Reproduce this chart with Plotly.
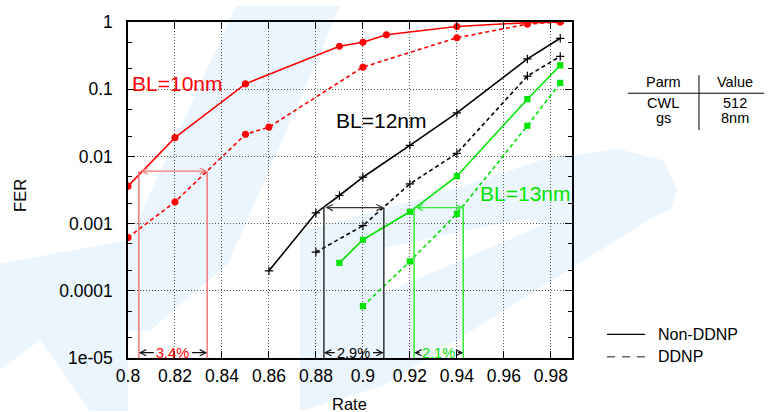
import math
import plotly.graph_objects as go

# ---- FER versus code rate, three block lengths, with and without DDNP ----
rate_bl10_non = [0.80, 0.82, 0.85, 0.89, 0.90, 0.91, 0.94, 0.97, 0.984]
fer_bl10_non = [0.0036, 0.019, 0.12, 0.436, 0.50, 0.645, 0.855, 0.98, 1.0]
rate_bl10_ddnp = [0.80, 0.82, 0.85, 0.86, 0.90, 0.94, 0.97, 0.984]
fer_bl10_ddnp = [0.00062, 0.0021, 0.0213, 0.0273, 0.213, 0.583, 0.93, 1.0]

rate_bl12_non = [0.86, 0.88, 0.89, 0.90, 0.92, 0.94, 0.97, 0.984]
fer_bl12_non = [0.000198, 0.00144, 0.00262, 0.0049, 0.0146, 0.0443, 0.282, 0.572]
rate_bl12_ddnp = [0.88, 0.90, 0.92, 0.94, 0.97, 0.984]
fer_bl12_ddnp = [0.000376, 0.00093, 0.0039, 0.0111, 0.157, 0.308]

rate_bl13_non = [0.89, 0.90, 0.92, 0.94, 0.97, 0.984]
fer_bl13_non = [0.00026, 0.000575, 0.0015, 0.00507, 0.071, 0.227]
rate_bl13_ddnp = [0.90, 0.92, 0.94, 0.97, 0.984]
fer_bl13_ddnp = [5.9e-5, 0.000274, 0.0014, 0.0286, 0.124]

# rate gain brackets: (rate non-DDNP, rate DDNP, FER level, label)
gain_bl10 = (0.8046, 0.8337, 0.00605, "3.4%")
gain_bl12 = (0.8834, 0.9089, 0.00173, "2.9%")
gain_bl13 = (0.9218, 0.9427, 0.00173, "2.1%")

x_ticks = [0.80, 0.82, 0.84, 0.86, 0.88, 0.90, 0.92, 0.94, 0.96, 0.98]
y_ticks = [1e-5, 1e-4, 1e-3, 1e-2, 1e-1, 1]
y_ticktext = ["1e-05", "0.0001", "0.001", "0.01", "0.1", "1"]
y_minor = [m * 10.0 ** e for e in range(-5, 0) for m in (2, 5)]

table_head = ["Parm", "Value"]
table_rows = [["CWL", "512"], ["gs", "8nm"]]
legend_names = ["Non-DDNP", "DDNP"]

RED = "#ff0000"
BLACK = "#000000"
GREEN = "#00e400"
FONT = "Liberation Sans, Arial, sans-serif"

W, H = 768, 412
L, R, T, B = 128, 196, 16, 54


def pxx(x):
    return (x - L) / (W - L - R)


def pxy(y):
    return (H - B - y) / (H - T - B)


fig = go.Figure()


def curve(xs, ys, color, dash, symbol, size):
    fig.add_trace(go.Scatter(
        x=xs, y=ys, mode="lines+markers",
        line=dict(color=color, width=1.6, dash=dash),
        marker=dict(color=color, symbol=symbol, size=size,
                    line=dict(color=color, width=1.2)),
        showlegend=False, hoverinfo="x+y"))


curve(rate_bl10_non, fer_bl10_non, RED, "solid", "circle", 6)
curve(rate_bl10_ddnp, fer_bl10_ddnp, RED, "4px,3px", "circle", 6)
curve(rate_bl12_non, fer_bl12_non, BLACK, "solid", "cross-thin", 6)
curve(rate_bl12_ddnp, fer_bl12_ddnp, BLACK, "4px,3px", "cross-thin", 6)
curve(rate_bl13_non, fer_bl13_non, GREEN, "solid", "square", 5)
curve(rate_bl13_ddnp, fer_bl13_ddnp, GREEN, "4px,3px", "square", 5)

shapes = []
annotations = []


def note(text, x, y, size, color=BLACK, xanchor="center", **kw):
    annotations.append(dict(x=pxx(x), y=pxy(y), xref="paper", yref="paper", text=text,
                            xanchor=xanchor, yanchor="middle", showarrow=False,
                            font=dict(family=FONT, size=size, color=color), **kw))


# faint watermark in the background
WM = "#ebf5fd"


def poly(points, color=WM):
    d = "M" + " L".join(f"{pxx(a):.4f},{pxy(b):.4f}" for a, b in points) + " Z"
    shapes.append(dict(type="path", path=d, xref="paper", yref="paper",
                       fillcolor=color, line=dict(width=0), layer="below"))


poly([(236, 0), (340, 0), (300, 95), (228, 262), (150, 330), (128, 330), (128, 240)])
poly([(0, 262), (128, 238), (128, 412), (90, 412), (40, 340), (0, 370)])
poly([(300, 230), (384, 206), (451, 187), (540, 157), (617, 145), (664, 157),
      (677, 187), (671, 206), (651, 216), (384, 386), (300, 412), (300, 300)])
poly([(384, 246), (524, 216), (545, 222), (384, 292)], "#ffffff")

# rate gain brackets
low = 1.2e-5
for (x0, x1, lvl, txt), col, vcol in [
        (gain_bl10, RED, "#f27878"),
        (gain_bl12, BLACK, "#333333"),
        (gain_bl13, GREEN, "#33ee33")]:
    for xv in (x0, x1):
        shapes.append(dict(type="line", xref="x", yref="y", x0=xv, x1=xv,
                           y0=1e-5, y1=lvl, line=dict(color=vcol, width=1.5),
                           layer="above"))
    annotations.append(dict(x=x1, y=math.log10(lvl), ax=x0, ay=math.log10(lvl),
                            xref="x", yref="y", axref="x", ayref="y", text="",
                            showarrow=True, arrowside="end+start", arrowhead=5,
                            startarrowhead=5, arrowsize=1, startarrowsize=1,
                            arrowwidth=1.2, arrowcolor=vcol,
                            standoff=0, startstandoff=0))
    xc = (x0 + x1) / 2
    gap = 0.0075
    for xe, xs in ((x0, xc - gap), (x1, xc + gap)):
        annotations.append(dict(x=xe, y=math.log10(low), ax=xs, ay=math.log10(low),
                                xref="x", yref="y", axref="x", ayref="y", text="",
                                showarrow=True, arrowhead=5, arrowsize=1,
                                arrowwidth=1.2, arrowcolor="#111111",
                                standoff=0))
    annotations.append(dict(x=xc, y=math.log10(low), xref="x", yref="y", text=txt,
                            xanchor="center", yanchor="middle",
                            showarrow=False, font=dict(family=FONT, size=14.5, color=col)))

# curve family labels
for txt, xv, yv, col in [("BL=10nm", 0.8207, 0.12, RED),
                          ("BL=12nm", 0.9077, 0.0337, BLACK),
                          ("BL=13nm", 0.9688, 0.00277, GREEN)]:
    annotations.append(dict(x=xv, y=math.log10(yv), xref="x", yref="y", text=txt,
                            xanchor="center", yanchor="middle",
                            showarrow=False, font=dict(family=FONT, size=21, color=col)))

# axis titles
note("Rate", 349, 405, 16.5)
note("FER", 20, 193, 16.5, textangle=-90)

# parameter table
for i, h in enumerate(table_head):
    note(h, [663, 735][i], 77, 14.5)
for r, row in enumerate(table_rows):
    for i, cell in enumerate(row):
        note(cell, [663, 735][i], 98.5 + 15 * r, 14.5)
shapes.append(dict(type="line", xref="paper", yref="paper", x0=pxx(628), x1=pxx(764),
                   y0=pxy(88.5), y1=pxy(88.5), line=dict(color=BLACK, width=1)))
shapes.append(dict(type="line", xref="paper", yref="paper", x0=pxx(699), x1=pxx(699),
                   y0=pxy(70), y1=pxy(126), line=dict(color=BLACK, width=1)))

# line-style key
for k, (name, dash, col) in enumerate(zip(legend_names, ["solid", "8px,7px"], [BLACK, "#666666"])):
    yk = 334 + 22.7 * k
    shapes.append(dict(type="line", xref="paper", yref="paper", x0=pxx(607), x1=pxx(645),
                       y0=pxy(yk), y1=pxy(yk), line=dict(color=col, width=1.4, dash=dash)))
    note(name, 656, yk, 16, xanchor="left")

axis_common = dict(showline=True, linecolor=BLACK, linewidth=1.5, mirror="ticks",
                   ticks="inside", ticklen=7, tickcolor=BLACK, tickwidth=1,
                   showgrid=True, gridcolor="#555555", griddash="1px,2px", gridwidth=1,
                   zeroline=False, tickfont=dict(family=FONT, size=17.5, color=BLACK))

fig.update_layout(
    width=W, height=H,
    margin=dict(l=L, r=R, t=T, b=B, pad=0),
    paper_bgcolor="#ffffff", plot_bgcolor="rgba(0,0,0,0)",
    xaxis=dict(range=[0.8, 0.989], tickvals=x_ticks,
               ticktext=[f"{v:g}" for v in x_ticks], ticklabelstandoff=1,
               **axis_common),
    yaxis=dict(type="log", range=[-5, 0], tickvals=y_ticks, ticktext=y_ticktext,
               ticklabelstandoff=10,
               minor=dict(tickmode="array", tickvals=y_minor, ticks="inside",
                          ticklen=4, tickcolor=BLACK, showgrid=False),
               **axis_common),
    shapes=shapes, annotations=annotations,
    showlegend=False,
)

fig.write_html("out.html")
